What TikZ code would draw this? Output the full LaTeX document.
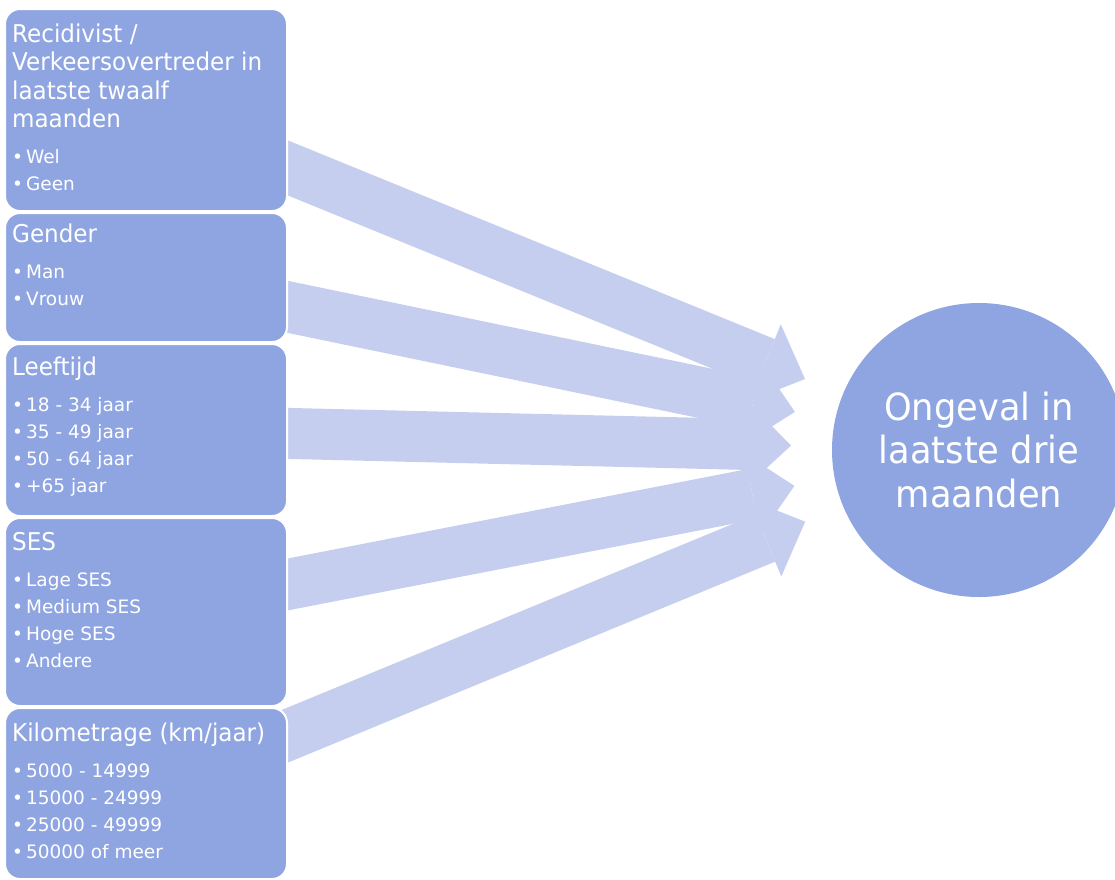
\documentclass[tikz,border=0pt]{standalone}
\usepackage{fontspec}
\setmainfont{DejaVu Sans}
\newfontfamily\bigfont{DejaVu Sans}[FakeStretch=0.94]
\usetikzlibrary{positioning,arrows.meta,backgrounds}
\definecolor{factor-blue}{RGB}{143,165,225}
\definecolor{flow-blue}{RGB}{197,206,239}
\tikzset{
    factor-box/.style = {draw=white, fill=factor-blue, line width=2pt, rectangle, rounded corners=15pt, minimum width=282pt, inner sep=0pt},
    factor-text/.style = {text=white, anchor=base west, inner sep=0pt},
    outcome/.style = {circle, fill=factor-blue, text=white, minimum size=294pt, inner sep=0pt, outer sep=0pt, align=center, font=\bigfont\fontsize{37.5}{43.5}\selectfont},
    flow/.style = {draw=flow-blue, line width=51pt, shorten >=41pt, -{Triangle[length=43pt 0 0, width=83pt 0 0, line width'=0pt]}},
}
\newcommand{\factorlist}[2]{\begin{minipage}[t]{270pt}\raggedright
    \bigfont\fontsize{24.5}{28.5}\selectfont #1\par\vspace{9pt}
    \normalfont\fontsize{18.5}{27}\selectfont #2
\end{minipage}}
\newcommand{\dotitem}{\textbullet\hspace{3pt}}

\begin{document}
\begin{tikzpicture}[x=1pt, y=-1pt, node distance=0pt]
\useasboundingbox (0,0) rectangle (1115,879);
% factors on the left
\node[factor-box, minimum height=202pt, anchor=north west] (recid) at (4,8) {};
\node[factor-box, minimum height=129pt, below=of recid] (gender) {};
\node[factor-box, minimum height=172pt, below=of gender] (age) {};
\node[factor-box, minimum height=188pt, below=of age] (ses) {};
\node[factor-box, minimum height=171pt, below=of ses] (mileage) {};

\node[factor-text] (recid-text) at ([shift={(8pt,-34pt)}]recid.north west)
    {\factorlist{Recidivist /\\Verkeersovertreder in\\laatste twaalf\\maanden}{\dotitem Wel\\\dotitem Geen}};
\node[factor-text] (gender-text) at ([shift={(8pt,-30.5pt)}]gender.north west)
    {\factorlist{Gender}{\dotitem Man\\\dotitem Vrouw}};
\node[factor-text] (age-text) at ([shift={(8pt,-32.5pt)}]age.north west)
    {\factorlist{Leeftijd}{\dotitem 18 - 34 jaar\\\dotitem 35 - 49 jaar\\\dotitem 50 - 64 jaar\\\dotitem +65 jaar}};
\node[factor-text] (ses-text) at ([shift={(8pt,-33pt)}]ses.north west)
    {\factorlist{SES}{\dotitem Lage SES\\\dotitem Medium SES\\\dotitem Hoge SES\\\dotitem Andere}};
\node[factor-text] (mileage-text) at ([shift={(8pt,-34pt)}]mileage.north west)
    {\factorlist{Kilometrage (km/jaar)}{\dotitem 5000 - 14999\\\dotitem 15000 - 24999\\\dotitem 25000 - 49999\\\dotitem 50000 of meer}};

% outcome
\node[outcome] (goal) at (979,450) {Ongeval in\\laatste drie\\maanden};

% block arrows, behind the boxes
\begin{scope}[on background layer]
\foreach \src in {recid, gender, age, ses, mileage}
    \draw[flow] (\src.center) -- (goal);
\end{scope}
\end{tikzpicture}
\end{document}
